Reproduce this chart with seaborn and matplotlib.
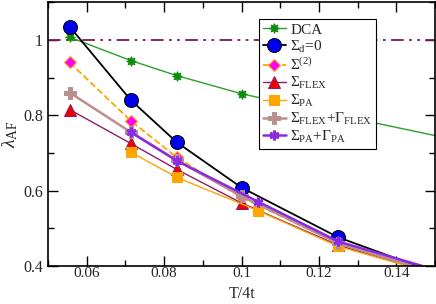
import matplotlib
matplotlib.use("Agg")
import matplotlib.pyplot as plt
import seaborn as sns
import pandas as pd
from matplotlib.ticker import MultipleLocator, FuncFormatter

# ---- data ----
dca_x = [0.0556, 0.0714, 0.0833, 0.1, 0.125, 0.1667]
dca_y = [1.007, 0.945, 0.905, 0.857, 0.80, 0.71]

sd0_x = [0.0556, 0.0714, 0.0833, 0.1, 0.125, 0.1667]
sd0_y = [1.035, 0.84, 0.728, 0.608, 0.476, 0.32]

s2_x = [0.0556, 0.0714, 0.0833, 0.1, 0.125, 0.1667]
s2_y = [0.94, 0.785, 0.688, 0.582, 0.46, 0.32]

flex_x = [0.0556, 0.0714, 0.0833, 0.1, 0.125, 0.1667]
flex_y = [0.815, 0.725, 0.656, 0.567, 0.455, 0.33]

pa_x = [0.0714, 0.0833, 0.1042, 0.125, 0.1667]
pa_y = [0.702, 0.635, 0.547, 0.452, 0.33]

flexg_x = [0.0556, 0.0714, 0.0833, 0.1, 0.125, 0.1667]
flexg_y = [0.86, 0.755, 0.68, 0.585, 0.46, 0.33]

pag_x = [0.0714, 0.0833, 0.1042, 0.125, 0.1667]
pag_y = [0.755, 0.679, 0.571, 0.465, 0.34]

ref_level = 1.0

labels = ["DCA", r"$\Sigma_{\rm d}$=0", r"$\Sigma^{(2)}$", r"$\Sigma_{\rm FLEX}$",
          r"$\Sigma_{\rm PA}$", r"$\Sigma_{\rm FLEX}$+$\Gamma_{\rm FLEX}$",
          r"$\Sigma_{\rm PA}$+$\Gamma_{\rm PA}$"]

# ---- style ----
sns.set_style("ticks")
plt.rcParams["font.family"] = ["Liberation Serif", "DejaVu Serif"]
plt.rcParams["mathtext.fontset"] = "custom"
plt.rcParams["mathtext.rm"] = "Liberation Serif"
plt.rcParams["mathtext.it"] = "Liberation Serif:italic"
plt.rcParams["mathtext.bf"] = "Liberation Serif:bold"

fig = plt.figure(figsize=(4.36, 3.04), dpi=100)
ax = fig.add_axes([0.110, 0.125, 0.888, 0.868])

ax.axhline(ref_level, color="#7a1a50", lw=1.3, dashes=[7, 3, 1.5, 3, 1.5, 3], zorder=1)

series = [
    (dca_x, dca_y, dict(color="#2aa02a", marker=(8, 1, 0), markersize=7,
                        markerfacecolor="#0c8c0c", markeredgecolor="#0c8c0c", lw=1.0)),
    (sd0_x, sd0_y, dict(color="black", marker="o", markersize=10,
                        markerfacecolor="#0000f0", markeredgecolor="black", lw=1.3)),
    (s2_x, s2_y, dict(color="#ffa500", marker="D", markersize=6.5, linestyle="--",
                      markerfacecolor="#ff00ff", markeredgecolor="#ffa500", lw=1.3)),
    (flex_x, flex_y, dict(color="#8b1f6a", marker="^", markersize=8,
                          markerfacecolor="#ee0000", markeredgecolor="#8b1f6a", lw=1.0)),
    (pa_x, pa_y, dict(color="#ffa500", marker="s", markersize=7,
                      markerfacecolor="#ffa500", markeredgecolor="#ffa500", lw=1.0)),
    (flexg_x, flexg_y, dict(color="#bc8f8f", marker="P", markersize=8,
                            markerfacecolor="#bc8f8f", markeredgecolor="#bc8f8f", lw=1.8)),
    (pag_x, pag_y, dict(color="#8a2be2", marker=(6, 2, 0), markersize=7,
                        markerfacecolor="#8a2be2", markeredgecolor="#8a2be2",
                        markeredgewidth=2.0, lw=1.8)),
]

for (xs, ys, kw), lab in zip(series, labels):
    df = pd.DataFrame({"x": xs, "y": ys})
    sns.lineplot(data=df, x="x", y="y", ax=ax, label=lab, sort=False, **kw)

ax.set_xlim(0.05, 0.15)
ax.set_ylim(0.4, 1.1)
ax.xaxis.set_major_locator(MultipleLocator(0.02))
ax.xaxis.set_minor_locator(MultipleLocator(0.01))
ax.yaxis.set_major_locator(MultipleLocator(0.2))
ax.yaxis.set_minor_locator(MultipleLocator(0.1))
ax.xaxis.set_major_formatter(FuncFormatter(lambda v, p: f"{v:g}"))
ax.yaxis.set_major_formatter(FuncFormatter(lambda v, p: f"{v:g}"))
ax.tick_params(which="both", direction="in", top=True, right=True, labelsize=11.5,
               width=1.0, color="black")
ax.tick_params(which="major", length=7)
ax.tick_params(which="minor", length=4)
ax.tick_params(axis="x", pad=1, labelsize=11)
for s in ax.spines.values():
    s.set_linewidth(1.2)
    s.set_color("black")

ax.set_xlabel("T/4t", fontsize=11.5)
ax.xaxis.set_label_coords(0.5, -0.074)
ax.xaxis.label.set_va("top")
ax.set_ylabel(r"$\lambda_{\rm AF}$", fontsize=14, labelpad=2)

leg = ax.legend(loc="upper left", bbox_to_anchor=(0.545, 0.935), fontsize=11,
                frameon=True, fancybox=False, framealpha=1, edgecolor="black",
                handlelength=1.5, handletextpad=0.3, labelspacing=0.12,
                borderpad=0.25, borderaxespad=0)
leg.get_frame().set_linewidth(0.8)

fig.savefig("out.png", dpi=100)
